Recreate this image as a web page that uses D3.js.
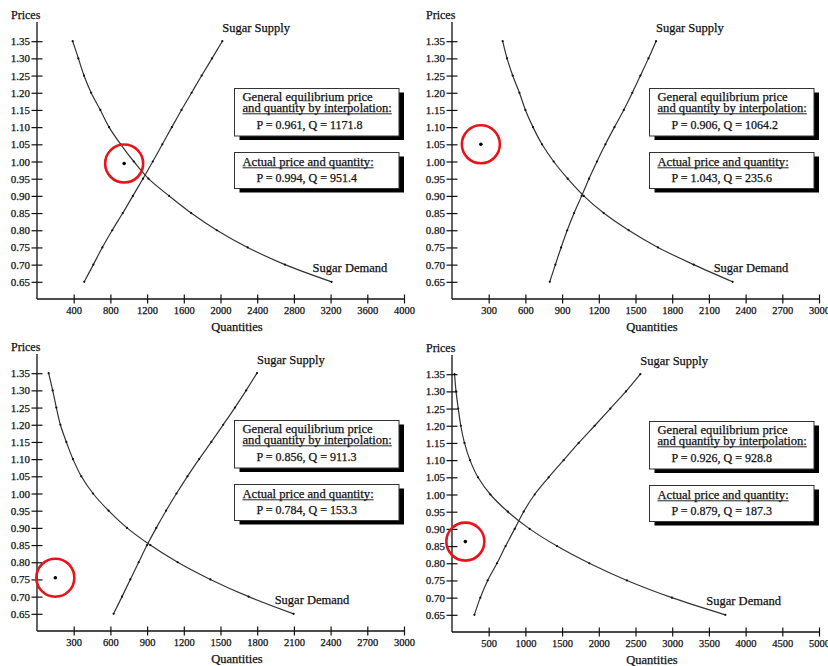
<!DOCTYPE html>
<html>
<head>
<meta charset="utf-8">
<script src="https://cdn.jsdelivr.net/npm/d3@7"></script>
<style>
  html, body { margin: 0; padding: 0; background: #fff; }
  svg { display: block; }
  text { font-family: "Liberation Serif", "Times New Roman", serif; fill: #111; stroke: #111; stroke-width: 0.25px; }
</style>
</head>
<body>
<svg id="chart" width="828" height="666"></svg>
<script>
// ---- data ----
const prices = [0.65, 0.70, 0.75, 0.80, 0.85, 0.90, 0.95, 1.00, 1.05, 1.10, 1.15, 1.20, 1.25, 1.30, 1.35];
const priceTicks = [0.65, 0.70, 0.75, 0.80, 0.85, 0.90, 0.95, 1.00, 1.05, 1.10, 1.15, 1.20, 1.25, 1.30, 1.35];

const supply1 = [515, 614, 712, 820, 935, 1045, 1155, 1262, 1366, 1470, 1575, 1685, 1795, 1908, 2020];
const demand1 = [3211, 2703, 2296, 1960, 1680, 1440, 1215, 1055, 912, 785, 690, 590, 512, 451, 389];
const supply2 = [799, 845, 892, 942, 998, 1060, 1120, 1185, 1254, 1328, 1404, 1474, 1540, 1606, 1668];
const demand2 = [2294, 1976, 1684, 1444, 1240, 1077, 946, 831, 736, 662, 600, 551, 496, 450, 414];
const supply3 = [626, 695, 763, 831, 900, 975, 1055, 1140, 1230, 1325, 1425, 1522, 1618, 1710, 1798];
const demand3 = [2098, 1730, 1417, 1150, 926, 736, 585, 458, 362, 294, 240, 191, 158, 128, 95];
const supply4 = [305, 386, 486, 613, 730, 854, 976, 1126, 1317, 1521, 1726, 1943, 2157, 2370, 2566];
const demand4 = [3724, 2996, 2384, 1871, 1430, 1058, 760, 523, 354, 245, 170, 120, 85, 55, 35];

const xMax = [4000, 3000, 3000, 5000];
const xTicks1 = [400, 800, 1200, 1600, 2000, 2400, 2800, 3200, 3600, 4000];
const xTicks2 = [300, 600, 900, 1200, 1500, 1800, 2100, 2400, 2700, 3000];
const xTicks3 = [300, 600, 900, 1200, 1500, 1800, 2100, 2400, 2700, 3000];
const xTicks4 = [500, 1000, 1500, 2000, 2500, 3000, 3500, 4000, 4500, 5000];

const eqP = ["0.961", "0.906", "0.856", "0.926"];
const eqQ = ["1171.8", "1064.2", "911.3", "928.8"];
const actPText = ["0.994", "1.043", "0.784", "0.879"];
const actQText = ["951.4", "235.6", "153.3", "187.3"];
// marked point as plotted in the picture
const markP = [0.994, 1.05, 0.755, 0.863];
const markQ = [950, 236, 150, 182];

const supplies = [supply1, supply2, supply3, supply4];
const demands = [demand1, demand2, demand3, demand4];
const xTicksAll = [xTicks1, xTicks2, xTicks3, xTicks4];

// ---- layout ----
const offsets = [[0, 0], [415, 0], [0, 332], [415, 333]];
const svg = d3.select("#chart");

for (let k = 0; k < 4; k++) {
  const g = svg.append("g").attr("transform", `translate(${offsets[k][0]},${offsets[k][1]})`);
  const x = d3.scaleLinear().domain([0, xMax[k]]).range([37, 404]);
  const y = d3.scaleLinear().domain([0.60, 1.40]).range([299, 24]);

  // axes
  const yAxis = d3.axisLeft(y).tickValues(priceTicks).tickFormat(d3.format(".2f"))
    .tickSizeInner(5.5).tickSizeOuter(0).tickPadding(1.5);
  const yg = g.append("g").attr("transform", "translate(37,0)").call(yAxis);
  yg.select(".domain").remove();
  yg.selectAll(".tick line").attr("x2", 5.5).attr("x1", -5.5).attr("stroke", "#111").attr("stroke-width", 1.2);
  yg.selectAll(".tick text").attr("x", -7).style("font-size", "11px").style("font-family", "Liberation Serif");
  g.append("line").attr("x1", 37).attr("x2", 37).attr("y1", 22).attr("y2", 299)
    .attr("stroke", "#111").attr("stroke-width", 1.3);

  const xAxis = d3.axisBottom(x).tickValues(xTicksAll[k]).tickFormat(d3.format("d"))
    .tickSizeInner(4.5).tickSizeOuter(0).tickPadding(4);
  const xg = g.append("g").attr("transform", "translate(0,299)").call(xAxis);
  xg.select(".domain").remove();
  xg.selectAll(".tick line").attr("y1", -4.5).attr("y2", 4.5).attr("stroke", "#111").attr("stroke-width", 1.2);
  xg.selectAll(".tick text").attr("y", 8).style("font-size", "10.5px").style("font-family", "Liberation Serif");
  g.append("line").attr("x1", 37).attr("x2", 404).attr("y1", 299).attr("y2", 299)
    .attr("stroke", "#111").attr("stroke-width", 1.3);

  g.append("text").attr("x", 11).attr("y", 19).text("Prices").style("font-size", "12px");
  g.append("text").attr("x", 237).attr("y", 331).attr("text-anchor", "middle").text("Quantities").style("font-size", "12.5px");

  // curves
  const line = d3.line().x(d => x(d[0])).y(d => y(d[1])).curve(d3.curveCatmullRom);
  [supplies[k], demands[k]].forEach(series => {
    const pts = series.map((q, i) => [q, prices[i]]);
    g.append("path").datum(pts).attr("d", line).attr("fill", "none")
      .attr("stroke", "#333").attr("stroke-width", 1.2);
    g.selectAll(null).data(pts).enter().append("circle")
      .attr("cx", d => x(d[0])).attr("cy", d => y(d[1])).attr("r", 1.1).attr("fill", "#111");
  });

  // curve labels
  const sEnd = supplies[k][supplies[k].length - 1];
  g.append("text").attr("x", x(sEnd)).attr("y", y(1.35) - 9).text("Sugar Supply").style("font-size", "12.5px");
  const dEnd = demands[k][0];
  g.append("text").attr("x", x(dEnd) - 19).attr("y", y(0.65) - 10).text("Sugar Demand").style("font-size", "12.5px");

  // actual point
  g.append("circle").attr("cx", x(markQ[k])).attr("cy", y(markP[k])).attr("r", 1.8).attr("fill", "#000");
  g.append("circle").attr("cx", x(markQ[k])).attr("cy", y(markP[k])).attr("r", 19)
    .attr("fill", "none").attr("stroke", "#e8141b").attr("stroke-width", 2.6);

  // boxes
  function box(bx, by, bw, bh) {
    g.append("rect").attr("x", bx + 5).attr("y", by + 4).attr("width", bw).attr("height", bh).attr("fill", "#000");
    g.append("rect").attr("x", bx).attr("y", by).attr("width", bw).attr("height", bh)
      .attr("fill", "#fff").attr("stroke", "#333").attr("stroke-width", 1);
  }
  function underlined(tx, ty, str, size) {
    const t = g.append("text").attr("x", tx).attr("y", ty).text(str).style("font-size", size);
    const w = t.node().getComputedTextLength();
    g.append("line").attr("x1", tx).attr("x2", tx + w).attr("y1", ty + 1.8).attr("y2", ty + 1.8)
      .attr("stroke", "#222").attr("stroke-width", 1);
  }
  box(234.5, 88.5, 164.5, 47.5);
  g.append("text").attr("x", 242.5).attr("y", 101).text("General equilibrium price").style("font-size", "12.6px");
  underlined(242.5, 112, "and quantity by interpolation:", "12.6px");
  g.append("text").attr("x", 256.5).attr("y", 129).text(`P = ${eqP[k]},  Q = ${eqQ[k]}`).style("font-size", "12px");

  box(234.5, 152.5, 164.5, 36);
  underlined(242.5, 166, "Actual price and quantity:", "12.6px");
  g.append("text").attr("x", 256.5).attr("y", 182).text(`P = ${actPText[k]},  Q = ${actQText[k]}`).style("font-size", "12px");
}
</script>
</body>
</html>
